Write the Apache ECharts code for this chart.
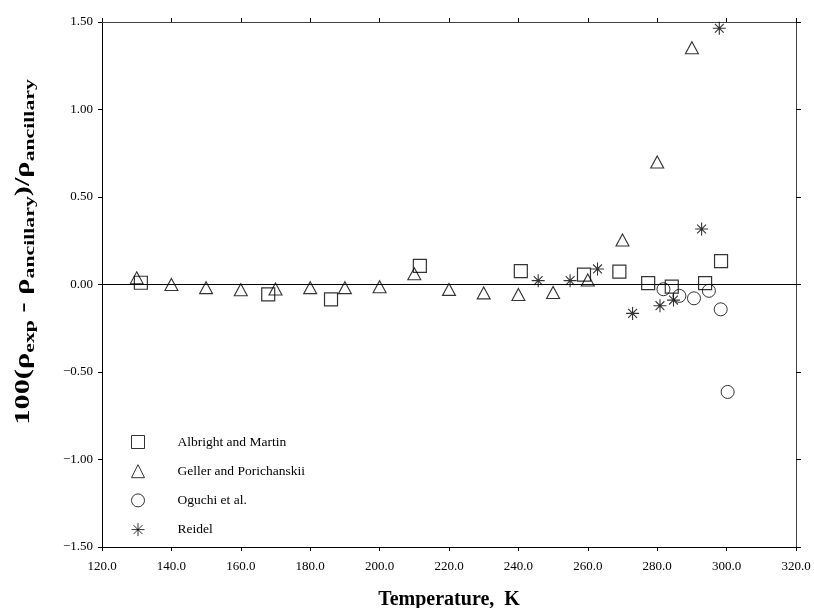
<!DOCTYPE html>
<html>
<head>
<meta charset="utf-8">
<script src="https://cdn.jsdelivr.net/npm/echarts@6/dist/echarts.min.js"></script>
<style>
  html, body { margin: 0; padding: 0; background: #fff; }
  #chart { width: 814px; height: 608px; }
</style>
</head>
<body>
<div id="chart"></div>
<script>
// temperatures (K) and deviations
var albrightT = [131.2, 167.9, 186.0, 211.6, 240.7, 258.9, 269.1, 277.4, 284.2, 293.8, 298.4];
var albrightD = [0.010, -0.056, -0.085, 0.107, 0.077, 0.056, 0.074, 0.008, -0.012, 0.008, 0.134];

var gellerT = [130, 140, 150, 160, 170, 180, 190, 200, 210, 220, 230, 240, 250, 260, 270, 280, 290];
var gellerD = [0.038, 0.000, -0.018, -0.030, -0.026, -0.018, -0.018, -0.013, 0.061, -0.028, -0.048, -0.057, -0.046, 0.026, 0.254, 0.700, 1.353];

var oguchiT = [281.8, 286.4, 290.6, 294.9, 298.3, 300.3];
var oguchiD = [-0.027, -0.065, -0.079, -0.036, -0.142, -0.614];

var reidelT = [245.7, 254.9, 262.8, 272.9, 280.8, 284.7, 292.8, 297.9];
var reidelD = [0.022, 0.022, 0.089, -0.165, -0.121, -0.089, 0.317, 1.464];

var seriesNames = ['Albright and Martin', 'Geller and Porichanskii', 'Oguchi et al.', 'Reidel'];

var serif = 'Liberation Serif';
var asterisk = 'path://M5 0L5 10M0 5L10 5M1.6 1.6L8.4 8.4M8.4 1.6L1.6 8.4';

function pairs(xs, ys) {
  return xs.map(function (x, i) { return [x, ys[i]]; });
}

function fmtY(v) {
  var s = Math.abs(v).toFixed(2);
  return v < 0 ? '\u2212' + s : s;
}

var myChart = echarts.init(document.getElementById('chart'));

var option = {
  backgroundColor: '#fff',
  animation: false,
  grid: { left: 102, right: 18, top: 22, bottom: 61, outerBoundsMode: 'none' },
  // y axis title: stretched along its length like the original typesetting
  graphic: [{
    type: 'text',
    x: 24,
    y: 252,
    rotation: Math.PI / 2,
    scaleX: 1.45,
    style: {
      text: '{b|100(\u03c1}{s|exp}{b| - \u03c1}{s|ancillary}{b|)/\u03c1}{s|ancillary}',
      textAlign: 'center',
      textVerticalAlign: 'middle',
      rich: {
        b: { fontFamily: serif, fontSize: 21, fontWeight: 'bold', fill: '#000', lineHeight: 28, verticalAlign: 'middle' },
        s: { fontFamily: serif, fontSize: 15, fontWeight: 'bold', fill: '#000', lineHeight: 15, verticalAlign: 'bottom' }
      }
    }
  }],
  legend: {
    orient: 'vertical',
    left: 126,
    top: 430,
    itemWidth: 13,
    itemHeight: 13,
    itemGap: 15.2,
    data: seriesNames,
    itemStyle: { borderWidth: 1 },
    textStyle: { fontFamily: serif, fontSize: 13.5, color: '#000', padding: [0, 0, 0, 28] }
  },
  xAxis: [{
    type: 'value',
    min: 120, max: 320, interval: 20,
    name: 'Temperature,  K',
    nameLocation: 'middle',
    nameGap: 43,
    nameTextStyle: { fontFamily: serif, fontSize: 20, fontWeight: 'bold', color: '#000' },
    axisLine: { show: true, onZero: false, lineStyle: { color: '#000', width: 1 } },
    axisTick: { show: true, length: 4, lineStyle: { color: '#000' } },
    axisLabel: {
      fontFamily: serif, fontSize: 13, color: '#000', margin: 13,
      formatter: function (v) { return v.toFixed(1); }
    },
    splitLine: { show: false }
  }, {
    type: 'value',
    position: 'top',
    min: 120, max: 320, interval: 20,
    axisLine: { show: true, onZero: false, lineStyle: { color: '#444', width: 1 } },
    axisTick: { show: true, length: 4, lineStyle: { color: '#000' } },
    axisLabel: { show: false },
    splitLine: { show: false }
  }],
  yAxis: [{
    type: 'value',
    min: -1.5, max: 1.5, interval: 0.5,
    axisLine: { show: true, onZero: false, lineStyle: { color: '#000', width: 1 } },
    axisTick: { show: true, length: 4, lineStyle: { color: '#000' } },
    axisLabel: { fontFamily: serif, fontSize: 13, color: '#000', margin: 9, formatter: fmtY },
    splitLine: { show: false }
  }, {
    type: 'value',
    position: 'right',
    min: -1.5, max: 1.5, interval: 0.5,
    axisLine: { show: true, onZero: false, lineStyle: { color: '#444', width: 1 } },
    axisTick: { show: true, length: 5, lineStyle: { color: '#000' } },
    axisLabel: { show: false },
    splitLine: { show: false }
  }],
  series: [{
    name: seriesNames[0],
    type: 'scatter',
    symbol: 'rect',
    symbolSize: 13,
    itemStyle: { color: 'rgba(255,255,255,0)', borderColor: '#000', borderWidth: 1.2 },
    data: pairs(albrightT, albrightD),
    z: 4,
    markLine: {
      silent: true,
      symbol: 'none',
      label: { show: false },
      lineStyle: { color: '#000', width: 1.2, type: 'solid' },
      data: [{ yAxis: 0 }]
    }
  }, {
    name: seriesNames[1],
    type: 'scatter',
    symbol: 'triangle',
    symbolSize: [13, 12],
    itemStyle: { color: 'rgba(255,255,255,0)', borderColor: '#000', borderWidth: 1.1 },
    data: pairs(gellerT, gellerD),
    z: 3
  }, {
    name: seriesNames[2],
    type: 'scatter',
    symbol: 'circle',
    symbolSize: 13,
    itemStyle: { color: 'rgba(255,255,255,0)', borderColor: '#000', borderWidth: 1 },
    data: pairs(oguchiT, oguchiD),
    z: 3
  }, {
    name: seriesNames[3],
    type: 'scatter',
    symbol: asterisk,
    symbolSize: 13,
    itemStyle: { color: '#000', borderColor: '#000', borderWidth: 1.1 },
    data: pairs(reidelT, reidelD),
    z: 5
  }]
};

myChart.setOption(option);
</script>
</body>
</html>
